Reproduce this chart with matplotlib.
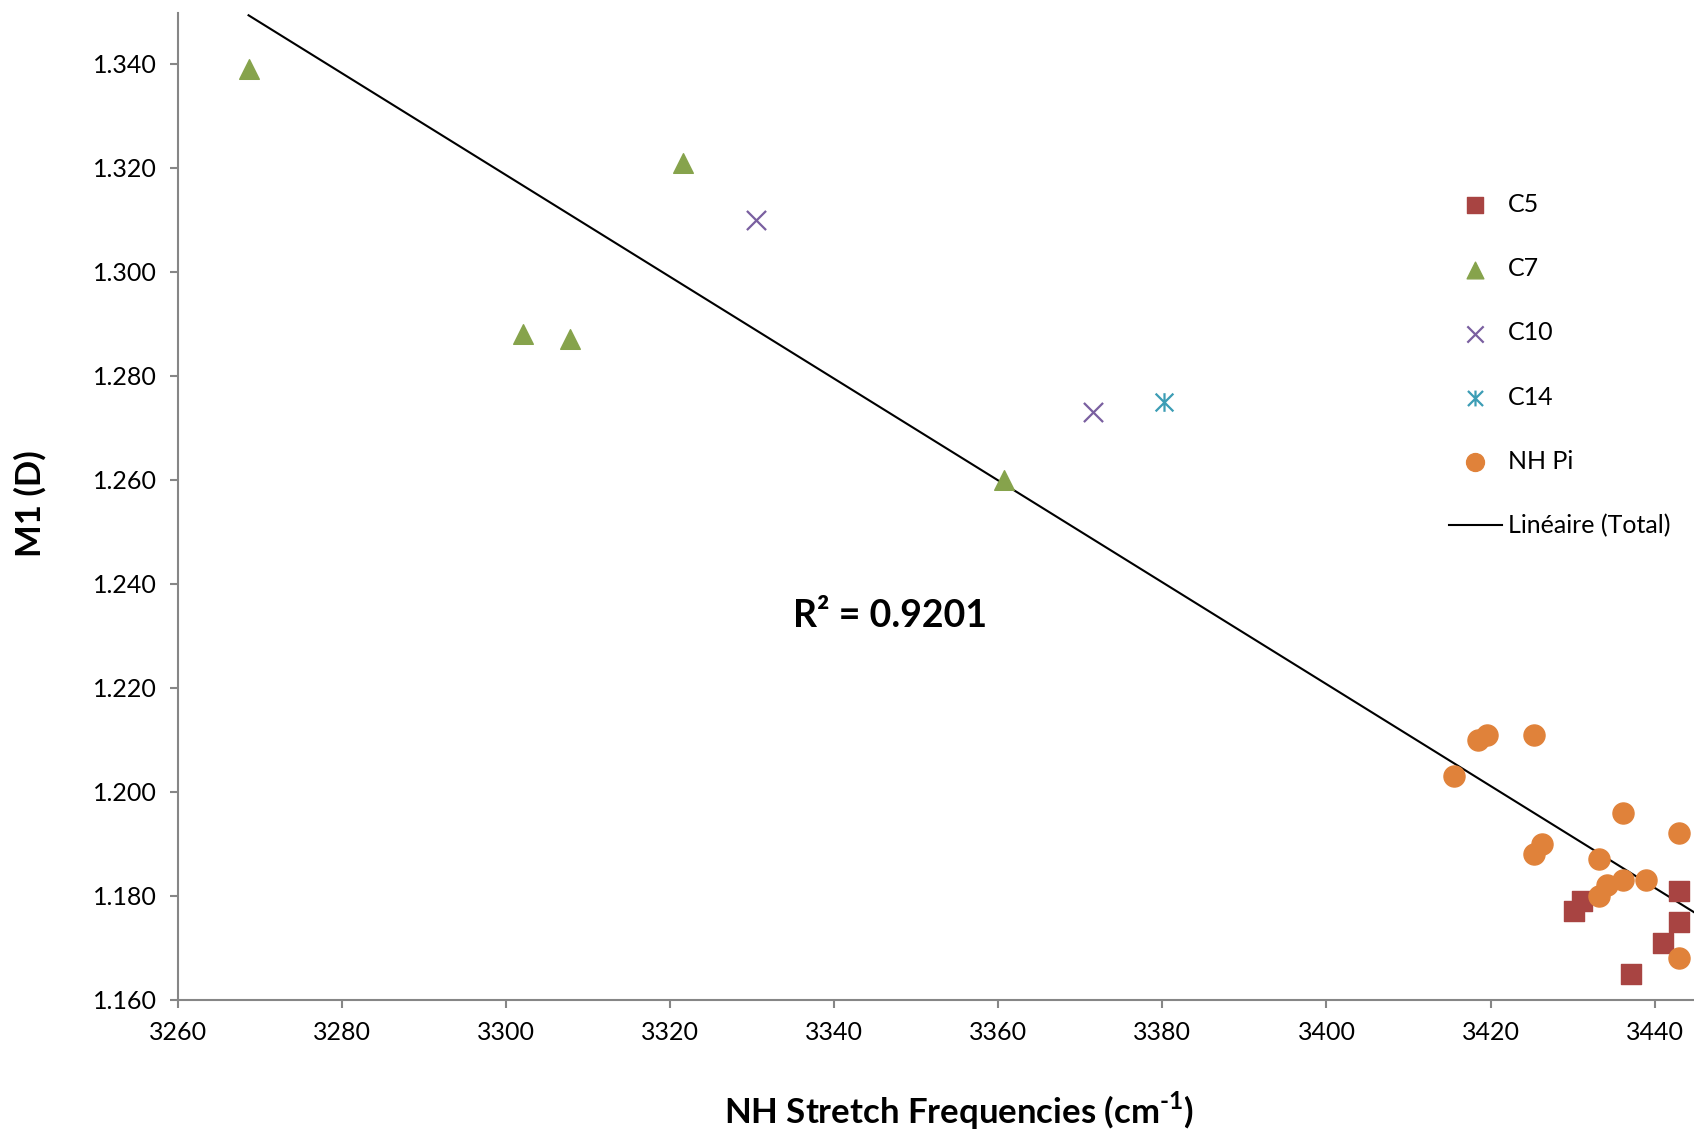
import numpy as np
import matplotlib
matplotlib.use('Agg')
import matplotlib.pyplot as plt
from matplotlib.path import Path

plt.rcParams['font.family'] = ['Lato', 'DejaVu Sans']
plt.rcParams['mathtext.fontset'] = 'custom'
plt.rcParams['mathtext.rm'] = 'Lato:bold'

# data
c5_x = [3430.2, 3431.2, 3437.1, 3441.0, 3443.0, 3443.0]
c5_y = [1.177, 1.179, 1.165, 1.171, 1.181, 1.175]

c7_x = [3268.6, 3302.0, 3307.8, 3321.5, 3360.7]
c7_y = [1.339, 1.288, 1.287, 1.321, 1.260]

c10_x = [3330.4, 3371.5]
c10_y = [1.310, 1.273]

c14_x = [3380.2]
c14_y = [1.275]

nhpi_x = [3418.5, 3419.6, 3425.3, 3415.5, 3436.1, 3443.0, 3426.3,
          3425.3, 3433.2, 3434.2, 3436.1, 3439.0, 3433.2, 3443.0]
nhpi_y = [1.210, 1.211, 1.211, 1.203, 1.196, 1.192, 1.190,
          1.188, 1.187, 1.182, 1.183, 1.183, 1.180, 1.168]

x_ticks = list(range(3260, 3441, 20))
y_ticks = [1.160, 1.180, 1.200, 1.220, 1.240, 1.260, 1.280, 1.300, 1.320, 1.340]
r2_text = 'R² = 0.9201'

# excel style star marker: x plus vertical bar
star = Path([(-1, -1), (1, 1), (-1, 1), (1, -1), (0, -1.05), (0, 1.05)],
            [Path.MOVETO, Path.LINETO, Path.MOVETO, Path.LINETO, Path.MOVETO, Path.LINETO])

fig = plt.figure(figsize=(16.94, 11.32), dpi=100)
ax = fig.add_axes([178/1694, 1 - 999.7/1132, 1 - 178/1694, 986.7/1132])

ax.scatter(c5_x, c5_y, marker='s', s=190, color='#A84442', label='C5', zorder=3)
ax.scatter(c7_x, c7_y, marker='^', s=200, color='#86A34C', label='C7', zorder=3)
ax.scatter(c10_x, c10_y, marker='x', s=190, color='#7A5FA0', linewidths=1.6, label='C10', zorder=3)
ax.scatter(c14_x, c14_y, marker=star, s=180, color='#3C9DB5', linewidths=1.6, label='C14', zorder=3)
ax.scatter(nhpi_x, nhpi_y, marker='o', s=230, color='#E0823A', label='NH Pi', zorder=3)

all_x = np.array(c5_x + c7_x + c10_x + c14_x + nhpi_x)
all_y = np.array(c5_y + c7_y + c10_y + c14_y + nhpi_y)
m, b = np.polyfit(all_x, all_y, 1)
xl = np.array([all_x.min(), 3450])
ax.plot(xl, m * xl + b, color='black', lw=1.5, label='Linéaire (Total)', zorder=2)

ax.set_xlim(3260, 3444.8)
ax.set_ylim(1.160, 1.3498)
ax.set_xticks(x_ticks)
ax.set_yticks(y_ticks)
ax.set_yticklabels(['%.3f' % v for v in y_ticks])

for s in ['top', 'right']:
    ax.spines[s].set_visible(False)
for s in ['left', 'bottom']:
    ax.spines[s].set_color('#868686')
    ax.spines[s].set_linewidth(1.5)
ax.tick_params(direction='out', length=6, width=1.5, color='#868686', labelsize=18, pad=9)

ax.set_xlabel('NH Stretch Frequencies (cm$^{\\text{-1}}$)', fontsize=25, fontweight='bold', va='center')
ax.xaxis.set_label_coords(0.515, -0.113)
ax.set_ylabel('M1 (D)', fontsize=25, fontweight='bold', va='center')
ax.yaxis.set_label_coords(-0.0976, 0.503)

ax.text(0.470, 0.389, r2_text, transform=ax.transAxes, fontsize=27, fontweight='bold',
        ha='center', va='center')

fig.legend(loc='upper left', bbox_to_anchor=(1449/1694, 1 - 193/1132), frameon=False,
           fontsize=18, handlelength=2.1, handletextpad=0.25, labelspacing=1.65,
           borderpad=0, borderaxespad=0, scatterpoints=1, markerscale=0.85)

fig.savefig('out.png', dpi=100)
